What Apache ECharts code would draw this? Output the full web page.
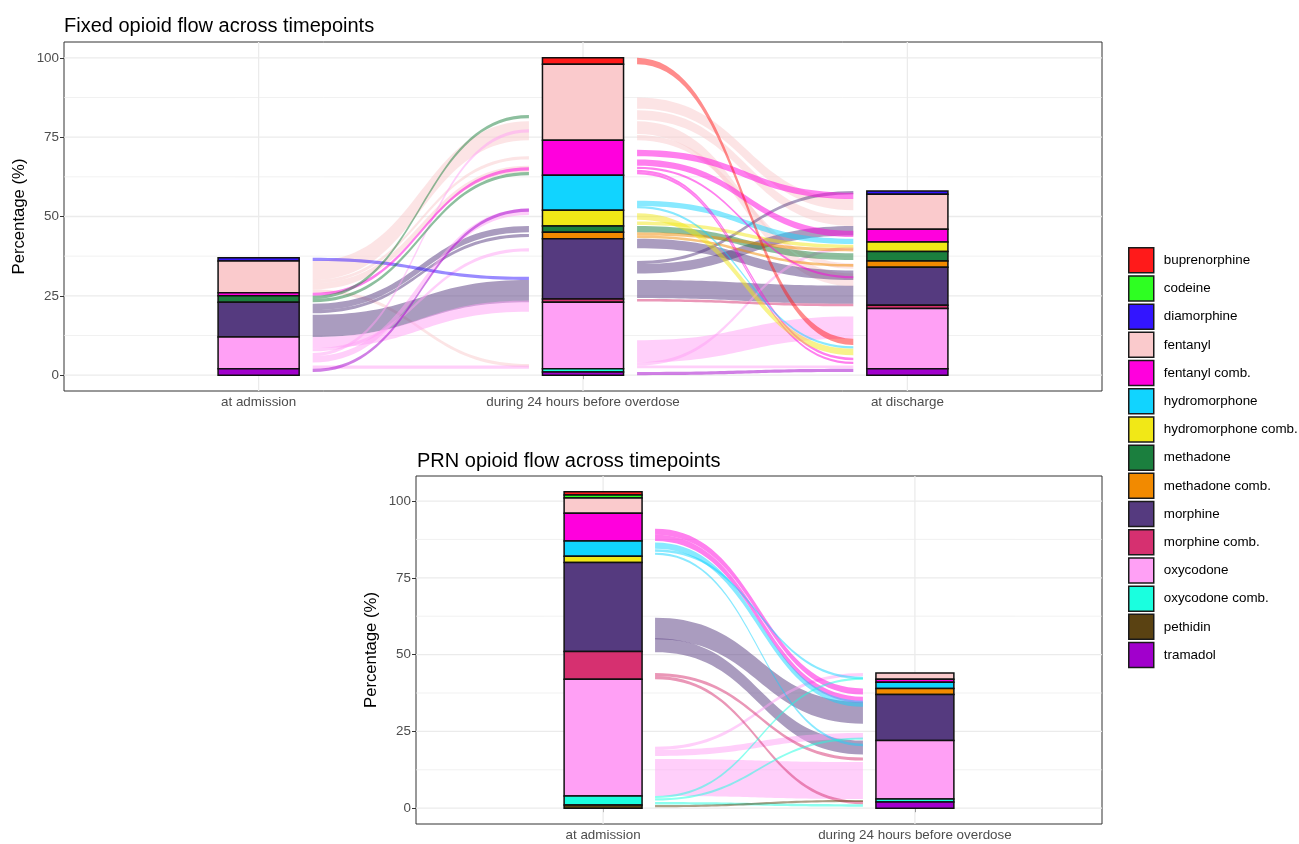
<!DOCTYPE html>
<html>
<head>
<meta charset="utf-8">
<script src="https://cdn.jsdelivr.net/npm/echarts@6/dist/echarts.min.js"></script>
<style>
html, body { margin: 0; background: #fff; }
#chart { width: 1299px; height: 844px; }
</style>
</head>
<body>
<div id="chart"></div>
<script>
const drugs = ['buprenorphine', 'codeine', 'diamorphine', 'fentanyl', 'fentanyl comb.', 'hydromorphone',
    'hydromorphone comb.', 'methadone', 'methadone comb.', 'morphine', 'morphine comb.', 'oxycodone',
    'oxycodone comb.', 'pethidin', 'tramadol']
const drugColors = ['#FF1A1A', '#2EFF22', '#3315FF', '#FACACC', '#FF00DD', '#11D4FF', '#F1E817', '#1B7F3E',
    '#F28A00', '#553A7F', '#D63070', '#FFA0F5', '#1AFFDF', '#5A4212', '#A100CC']

const fixedTimepoints = ['at admission', 'during 24 hours before overdose', 'at discharge']
const prnTimepoints = ['at admission', 'during 24 hours before overdose']
const yTicks = [0, 25, 50, 75, 100]
const yMinorTicks = [12.5, 37.5, 62.5, 87.5]

// percentage per drug, same order as drugs
const fixedAdmission = [0, 0, 1, 10, 1, 0, 0, 2, 0, 11, 0, 10, 0, 0, 2]
const fixedDuring = [2, 0, 0, 24, 11, 11, 5, 2, 2, 19, 1, 21, 1, 0, 1]
const fixedDischarge = [0, 0, 1, 11, 4, 0, 3, 3, 2, 12, 1, 19, 0, 0, 2]
const prnAdmission = [1, 1, 0, 5, 9, 5, 2, 0, 0, 29, 9, 38, 3, 1, 0]
const prnDuring = [0, 0, 0, 2, 1, 2, 0, 0, 2, 15, 0, 19, 1, 0, 2]

// flows: [drug, from low, from high, to low, to high]
const fixedFlowsAdmToDuring = [
    ['fentanyl', 30, 36, 74, 80],
    ['fentanyl', 29, 30, 68, 69],
    ['fentanyl', 27, 29, 64, 66],
    ['fentanyl', 26, 27, 2.5, 3.5],
    ['morphine', 12, 19, 23, 30],
    ['morphine', 20.5, 22.5, 45, 47],
    ['morphine', 19.5, 20.5, 43.5, 44.5],
    ['oxycodone', 8.5, 12, 20, 23.5],
    ['oxycodone', 7.5, 8.5, 39, 40],
    ['oxycodone', 6, 7, 76.5, 77.5],
    ['oxycodone', 4, 6, 50.5, 52.5],
    ['oxycodone', 2, 3, 2, 3],
    ['diamorphine', 36, 37, 30, 31],
    ['fentanyl comb.', 25, 26, 64.5, 65.5],
    ['methadone', 24, 25, 81, 82],
    ['methadone', 23, 24, 63, 64],
    ['tramadol', 1, 2, 51.5, 52.5]
]
const fixedFlowsDuringToDischarge = [
    ['fentanyl', 84, 87.5, 52, 55.5],
    ['fentanyl', 80.5, 83.5, 47, 50],
    ['fentanyl', 76, 80, 28, 32],
    ['fentanyl', 74, 75.7, 33.5, 35.2],
    ['morphine', 24.3, 30, 22.5, 28.2],
    ['morphine', 40, 43, 30, 33],
    ['morphine', 32, 35, 44, 47],
    ['morphine', 35, 36, 57, 58],
    ['oxycodone', 4, 11, 11.5, 18.5],
    ['oxycodone', 3, 4, 39.5, 40.5],
    ['oxycodone', 2.2, 3, 2.2, 3],
    ['morphine comb.', 23.2, 24, 21.7, 22.5],
    ['methadone', 45, 47, 36.3, 38.4],
    ['methadone comb.', 44, 45, 39, 40],
    ['methadone comb.', 43.2, 44, 34.2, 35],
    ['hydromorphone comb.', 47.3, 48.4, 40, 41.1],
    ['hydromorphone', 53.3, 55, 41.3, 43],
    ['fentanyl comb.', 69, 71, 55.5, 57.5],
    ['fentanyl comb.', 66, 68, 43.5, 45.5],
    ['fentanyl comb.', 65, 65.7, 30.5, 31.2],
    ['fentanyl comb.', 64, 64.7, 4.7, 5.5],
    ['fentanyl comb.', 63.3, 64, 3.5, 4.2],
    ['hydromorphone', 52.6, 53.3, 8.4, 9.1],
    ['hydromorphone comb.', 49, 51, 6.3, 8.3],
    ['buprenorphine', 98, 100, 9.5, 11.5],
    ['tramadol', 0, 1, 1, 2]
]
const prnFlowsAdmToDuring = [
    ['morphine', 55, 62, 27.5, 34.5],
    ['morphine', 50.8, 55.3, 17.5, 22],
    ['oxycodone', 4, 16, 3, 15],
    ['oxycodone', 17, 19, 22.5, 24.5],
    ['oxycodone', 19, 20, 43, 44],
    ['fentanyl comb.', 89, 91, 37, 39],
    ['fentanyl comb.', 87, 89, 34.3, 36.3],
    ['hydromorphone', 84.5, 86.5, 33, 35],
    ['hydromorphone', 83.5, 84.3, 42, 42.8],
    ['hydromorphone', 82.5, 83.2, 20.2, 21],
    ['morphine comb.', 43, 44, 15.5, 16.5],
    ['morphine comb.', 42, 43, 1.3, 2.3],
    ['oxycodone comb.', 3.3, 4, 41.8, 42.5],
    ['oxycodone comb.', 2.5, 3.2, 22.3, 23],
    ['oxycodone comb.', 1.2, 2, 0.5, 1.3],
    ['pethidin', 0.3, 1, 2, 2.7]
]

const FONT = 'Liberation Sans, Arial, sans-serif'
const BAR_HALF = 0.125
const FLOW_GAP = 1 / 6

// ggplot stacks the first level on top, so we build from the last one up
function stackColumn(values, x) {
    const rows = drugs.map(() => null)
    let base = 0
    for (let i = drugs.length - 1; i >= 0; i--) {
        if (values[i] > 0) {
            rows[i] = [x, base, base + values[i]]
            base += values[i]
        }
    }
    return rows
}

function barItem(params, api) {
    const p0 = api.coord([api.value(0) - BAR_HALF, api.value(2)])
    const p1 = api.coord([api.value(0) + BAR_HALF, api.value(1)])
    return {
        type: 'rect',
        shape: { x: p0[0], y: p0[1], width: p1[0] - p0[0], height: p1[1] - p0[1] },
        style: { fill: api.visual('color'), stroke: '#111', lineWidth: 1.5 }
    }
}

function bezier(a, b, n) {
    const mx = (a[0] + b[0]) / 2
    const pts = []
    for (let k = 0; k <= n; k++) {
        const t = k / n, u = 1 - t
        const x = u * u * u * a[0] + 3 * u * u * t * mx + 3 * u * t * t * mx + t * t * t * b[0]
        const y = u * u * u * a[1] + 3 * u * u * t * a[1] + 3 * u * t * t * b[1] + t * t * t * b[1]
        pts.push([x, y])
    }
    return pts
}

function flowItem(params, api) {
    const seg = api.value(0)
    const x0 = seg + 1 + FLOW_GAP
    const x1 = seg + 2 - FLOW_GAP
    const top = bezier(api.coord([x0, api.value(3)]), api.coord([x1, api.value(5)]), 40)
    const bottom = bezier(api.coord([x0, api.value(2)]), api.coord([x1, api.value(4)]), 40).reverse()
    return {
        type: 'polygon',
        shape: { points: top.concat(bottom) },
        style: { fill: drugColors[api.value(1)], opacity: 0.5 }
    }
}

function gridItem(params, api) {
    const cs = params.coordSys
    const major = api.value(2) === 1
    const style = { stroke: '#EBEBEB', lineWidth: major ? 1.3 : 0.7 }
    if (api.value(0) === 0) {
        const y = api.coord([1, api.value(1)])[1]
        return { type: 'line', shape: { x1: cs.x, y1: y, x2: cs.x + cs.width, y2: y }, style }
    }
    const x = api.coord([api.value(1), 0])[0]
    return { type: 'line', shape: { x1: x, y1: cs.y, x2: x, y2: cs.y + cs.height }, style }
}

function flowRows(flows, seg) {
    return flows.map(f => [seg, drugs.indexOf(f[0]), f[1], f[2], f[3], f[4]])
}

function gridRows(nCats) {
    const rows = []
    yTicks.forEach(v => rows.push([0, v, 1]))
    yMinorTicks.forEach(v => rows.push([0, v, 0]))
    for (let i = 1; i <= nCats; i++) rows.push([1, i, 1])
    return rows
}

function panelSeries(p, columns, flowData, nCats) {
    const stacks = columns.map((vals, t) => stackColumn(vals, t + 1))
    const list = [{
        type: 'custom', name: 'grid' + p, xAxisIndex: p, yAxisIndex: p, silent: true, z: 1,
        renderItem: gridItem, data: gridRows(nCats)
    }, {
        type: 'custom', name: 'flows' + p, xAxisIndex: p, yAxisIndex: p, silent: true, z: 2,
        renderItem: flowItem, encode: { x: 0, y: [2, 3, 4, 5] }, data: flowData
    }]
    drugs.forEach((name, d) => {
        const data = stacks.map(s => s[d]).filter(Boolean)
        list.push({
            type: 'custom', name, xAxisIndex: p, yAxisIndex: p, z: 3,
            itemStyle: { color: drugColors[d] },
            renderItem: barItem, encode: { x: 0, y: [1, 2] }, data
        })
    })
    return list
}

function xAxisFor(p, cats) {
    const vals = cats.map((c, i) => i + 1)
    return {
        type: 'value', gridIndex: p, min: 0.4, max: cats.length + 0.6,
        axisLine: { show: false },
        axisTick: { show: true, length: 4, customValues: vals, lineStyle: { color: '#333' } },
        axisLabel: {
            customValues: vals, margin: 5, color: '#4D4D4D', fontSize: 13.4, fontFamily: FONT,
            formatter: v => cats[Math.round(v) - 1]
        },
        splitLine: { show: false }
    }
}

function yAxisFor(p, max) {
    const pad = max * 0.05
    return {
        type: 'value', gridIndex: p, min: -pad, max: max + pad,
        axisLine: { show: false },
        axisTick: { show: true, length: 4, customValues: yTicks, lineStyle: { color: '#333' } },
        axisLabel: { customValues: yTicks, margin: 5, color: '#4D4D4D', fontSize: 13.4, fontFamily: FONT },
        splitLine: { show: false },
        name: 'Percentage (%)', nameLocation: 'middle', nameGap: 36, nameMoveOverlap: false,
        nameTextStyle: { color: '#000', fontSize: 16.7, fontFamily: FONT }
    }
}

const chart = echarts.init(document.getElementById('chart'))
const option = {
    animation: false,
    backgroundColor: '#fff',
    title: [
        { text: 'Fixed opioid flow across timepoints', left: 59, top: 11,
            textStyle: { fontSize: 20, fontWeight: 'normal', color: '#000', fontFamily: FONT } },
        { text: 'PRN opioid flow across timepoints', left: 412, top: 446,
            textStyle: { fontSize: 20, fontWeight: 'normal', color: '#000', fontFamily: FONT } }
    ],
    legend: {
        data: drugs, orient: 'vertical', left: 1128, top: 247, padding: 0,
        itemWidth: 25, itemHeight: 25, itemGap: 1.7, icon: 'rect', selectedMode: false,
        itemStyle: { borderColor: '#1a1a1a', borderWidth: 1.5 },
        textStyle: { fontSize: 13.4, color: '#000', fontFamily: FONT, padding: [0, 0, 0, 5] }
    },
    grid: [
        { left: 64, top: 42, width: 1038, height: 349, show: true, borderColor: '#333', borderWidth: 1, backgroundColor: '#fff' },
        { left: 416, top: 476, width: 686, height: 348, show: true, borderColor: '#333', borderWidth: 1, backgroundColor: '#fff' }
    ],
    xAxis: [xAxisFor(0, fixedTimepoints), xAxisFor(1, prnTimepoints)],
    yAxis: [yAxisFor(0, 100), yAxisFor(1, 103)],
    series: [
        ...panelSeries(0, [fixedAdmission, fixedDuring, fixedDischarge],
            flowRows(fixedFlowsAdmToDuring, 0).concat(flowRows(fixedFlowsDuringToDischarge, 1)), 3),
        ...panelSeries(1, [prnAdmission, prnDuring], flowRows(prnFlowsAdmToDuring, 0), 2)
    ]
}
chart.setOption(option)
window.addEventListener('resize', () => chart.resize())
</script>
</body>
</html>
